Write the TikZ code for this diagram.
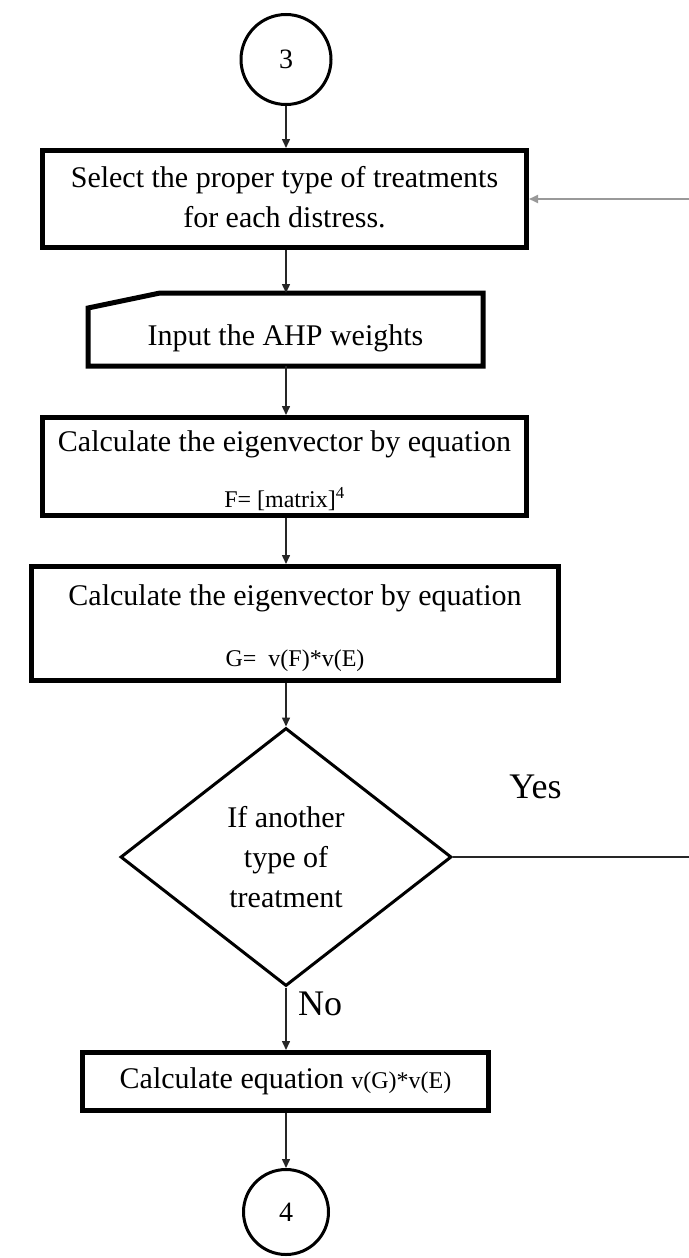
\documentclass[tikz,border=0pt]{standalone}
\usepackage{fontspec}
\setmainfont{Liberation Serif}
\usepackage{tikz}
\usetikzlibrary{arrows.meta,shapes.geometric}
\usetikzlibrary{positioning}
\tikzset{
    process/.style={
           rectangle,
           draw=black, line width=5pt,
           inner sep=0pt,
           text centered,
           font=\bigtext,
           },
    connector/.style={
           circle,
           draw=black, line width=3pt,
           inner sep=0pt,
           font=\digittext,
           },
    decision/.style={
           diamond,
           draw=black, line width=3pt,
           inner sep=0pt,
           align=center,
           font=\bigtext,
           },
    flow/.style={-{Triangle[length=9pt,width=8pt]}, line width=1.5pt, draw=black!85},
    loopback/.style={-{Triangle[length=9pt,width=8pt]}, line width=2pt, draw=black!40},
    answer/.style={font=\answertext},
}
\newcommand{\bigtext}{\fontsize{30}{40}\selectfont}
\newcommand{\smalltext}{\fontsize{24}{30}\selectfont}
\newcommand{\digittext}{\fontsize{28}{34}\selectfont}
\newcommand{\answertext}{\fontsize{36}{44}\selectfont}

\begin{document}
\begin{tikzpicture}[x=1pt,y=1pt]
        \useasboundingbox (0,0) rectangle (688,-1258);

        % connector 3
        \node[connector, minimum size=90pt] (C_THREE) at (286,-59.5) {3};

        % select treatments
        \node[process,
            minimum width=484pt, minimum height=97pt,
            below of=C_THREE,
            xshift=-1.5pt,
            node distance=139.5pt,
            anchor=center] (SEL_TREAT)
        {
            \begin{tabular}{c}
            Select the proper type of treatments\\
            for each distress.
            \end{tabular}
        };

        % manual input (outline drawn below)
        \node[process, draw=none,
            minimum width=390pt, minimum height=68pt,
            below of=SEL_TREAT,
            xshift=1pt,
            node distance=130.5pt,
            anchor=center] (IN_AHP)
        {\rule{0pt}{38pt}Input the AHP weights};
        \draw[line width=5pt]
            (IN_AHP.south west) -- ([yshift=-15pt]IN_AHP.north west)
            -- ([xshift=72pt]IN_AHP.north west) -- (IN_AHP.north east)
            -- (IN_AHP.south east) -- cycle;

        % eigenvector F
        \node[process,
            minimum width=484pt, minimum height=98pt,
            below of=IN_AHP,
            xshift=-1pt,
            node distance=137pt,
            anchor=center] (CALC_F)
        {\raisebox{-41pt}[0pt][0pt]{%
            \begin{tabular}[b]{c}
            Calculate the eigenvector by equation\\[16pt]
            {\smalltext F= [matrix]\textsuperscript{4}}
            \end{tabular}}
        };

        % eigenvector G
        \node[process,
            minimum width=527.5pt, minimum height=114pt,
            below of=CALC_F,
            xshift=10.5pt,
            node distance=157pt,
            anchor=center] (CALC_G)
        {\raisebox{-42.5pt}[0pt][0pt]{%
            \begin{tabular}[b]{c}
            Calculate the eigenvector by equation\\[21pt]
            {\smalltext G=~ v(F)*v(E)}
            \end{tabular}}
        };

        % decision
        \node[decision,
            minimum width=331pt, minimum height=258pt,
            below of=CALC_G,
            xshift=-9pt,
            node distance=233.5pt,
            anchor=center] (DEC_TYPE)
        {If another\\type of\\treatment};

        % final equation
        \node[process,
            minimum width=406pt, minimum height=58pt,
            below of=DEC_TYPE,
            xshift=-0.5pt,
            node distance=224.5pt,
            anchor=center] (CALC_V)
        {Calculate equation {\smalltext v(G)*v(E)}};

        % connector 4
        \node[connector, minimum size=85pt,
            below of=CALC_V,
            xshift=0.5pt,
            node distance=130.5pt,
            anchor=center] (C_FOUR) {4};

        % loop back point, off the page on the right
        \coordinate (LOOP) at ([xshift=250pt]DEC_TYPE.east);

        \path
            (C_THREE.south)   edge[flow] (C_THREE.south |- SEL_TREAT.north)
            (SEL_TREAT.south -| C_THREE) edge[flow] (C_THREE |- IN_AHP.north)
            (IN_AHP.south -| C_THREE) edge[flow] (C_THREE |- CALC_F.north)
            (CALC_F.south -| C_THREE) edge[flow] (C_THREE |- CALC_G.north)
            (CALC_G.south -| DEC_TYPE) edge[flow] (DEC_TYPE.north)
            (DEC_TYPE.south)  edge[flow] node[pos=0.27, right=8pt, answer]{No} (DEC_TYPE.south |- CALC_V.north)
            (CALC_V.south -| C_FOUR) edge[flow] (C_FOUR.north)
            ;
        \draw[line width=1.5pt, draw=black!85] (DEC_TYPE.east) -- node[pos=0.33, above=54pt, answer]{Yes} (LOOP);
        \draw[loopback] (LOOP) |- (SEL_TREAT.east);

\end{tikzpicture}
\end{document}
